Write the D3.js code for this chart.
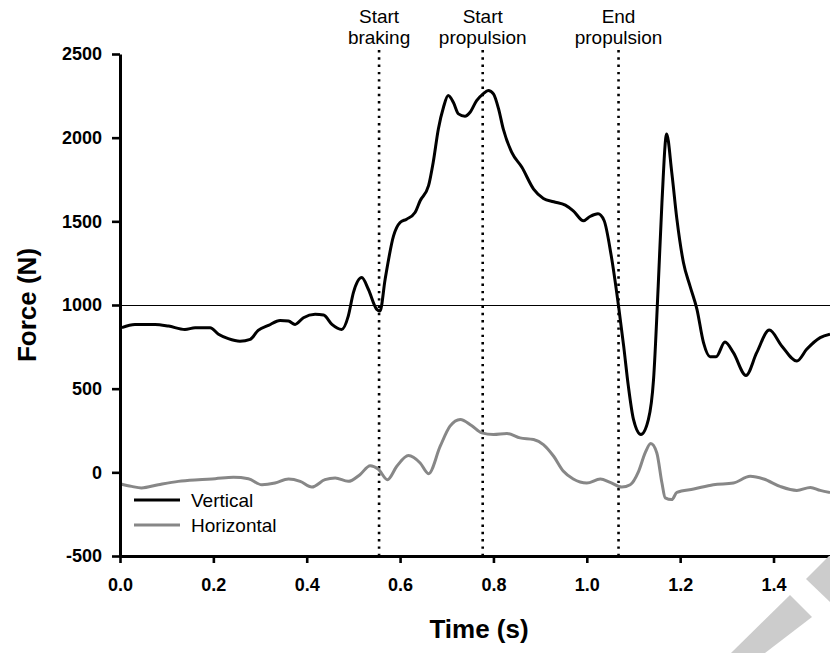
<!DOCTYPE html>
<html>
<head>
<meta charset="utf-8">
<script src="https://cdn.jsdelivr.net/npm/d3@7"></script>
<style>
  body { margin: 0; background: #fff; }
  svg { display: block; font-family: "Liberation Sans", Arial, sans-serif; }
</style>
</head>
<body>
<svg id="chart" width="830" height="653"></svg>
<script>
// time (s) and force (N)
const vertTime = [0.004, 0.032, 0.075, 0.104, 0.139, 0.161, 0.193, 0.211, 0.232, 0.257, 0.279, 0.296, 0.318, 0.343, 0.361, 0.375, 0.393, 0.418, 0.436, 0.454, 0.475, 0.489, 0.5, 0.518, 0.532, 0.55, 0.557, 0.568, 0.586, 0.6, 0.614, 0.632, 0.643, 0.661, 0.671, 0.682, 0.693, 0.703, 0.714, 0.725, 0.739, 0.75, 0.764, 0.778, 0.789, 0.8, 0.811, 0.821, 0.839, 0.861, 0.886, 0.907, 0.929, 0.954, 0.971, 0.993, 1.007, 1.024, 1.037, 1.052, 1.068, 1.079, 1.089, 1.1, 1.116, 1.132, 1.143, 1.153, 1.161, 1.171, 1.182, 1.193, 1.207, 1.221, 1.236, 1.25, 1.264, 1.277, 1.296, 1.314, 1.341, 1.364, 1.391, 1.418, 1.45, 1.471, 1.5, 1.521];
const vertForce = [865, 884, 884, 874, 854, 864, 864, 825, 799, 784, 795, 848, 878, 908, 904, 884, 924, 944, 940, 884, 854, 934, 1074, 1164, 1094, 974, 964, 1154, 1413, 1493, 1513, 1553, 1623, 1713, 1853, 2052, 2182, 2252, 2212, 2142, 2128, 2152, 2222, 2262, 2282, 2262, 2172, 2052, 1913, 1823, 1693, 1637, 1617, 1597, 1563, 1503, 1529, 1545, 1505, 1300, 994, 754, 515, 316, 226, 316, 555, 1114, 1613, 2022, 1793, 1513, 1254, 1114, 974, 775, 691, 691, 779, 715, 579, 715, 850, 754, 665, 735, 805, 825];

const horTime = [0, 0.025, 0.046, 0.082, 0.125, 0.168, 0.204, 0.243, 0.275, 0.304, 0.332, 0.361, 0.386, 0.411, 0.439, 0.461, 0.489, 0.514, 0.536, 0.553, 0.573, 0.593, 0.618, 0.643, 0.661, 0.686, 0.707, 0.729, 0.753, 0.775, 0.8, 0.829, 0.857, 0.886, 0.907, 0.929, 0.95, 0.971, 1.0, 1.029, 1.05, 1.075, 1.093, 1.111, 1.125, 1.137, 1.15, 1.161, 1.168, 1.182, 1.193, 1.229, 1.271, 1.314, 1.35, 1.379, 1.414, 1.45, 1.479, 1.5, 1.521];
const horForce = [-68, -84, -93, -74, -54, -44, -38, -30, -38, -74, -64, -40, -54, -88, -44, -34, -54, -14, 40, 20, -44, 36, 100, 56, -8, 156, 276, 316, 280, 236, 226, 232, 206, 196, 166, 96, 6, -40, -64, -40, -60, -88, -74, 6, 116, 172, 116, -64, -153, -163, -120, -100, -74, -64, -24, -40, -84, -108, -90, -108, -120];

const eventTimes = [0.555, 0.777, 1.068];
const eventLabels = [["Start", "braking"], ["Start", "propulsion"], ["End", "propulsion"]];

const seriesNames = ["Vertical", "Horizontal"];
const seriesColors = ["#000", "#878787"];

const xTicks = [0, 0.2, 0.4, 0.6, 0.8, 1.0, 1.2, 1.4];
const yTicks = [-500, 0, 500, 1000, 1500, 2000, 2500];
const refLine = 1000;

const svg = d3.select("#chart");

const x = d3.scaleLinear().domain([0, 1.521]).range([120, 830]);
const y = d3.scaleLinear().domain([-500, 2500]).range([556, 54]);

// reference line at 1000 N
svg.append("line")
  .attr("x1", x(0)).attr("x2", 830)
  .attr("y1", Math.round(y(refLine)) + 0.5).attr("y2", Math.round(y(refLine)) + 0.5)
  .attr("stroke", "#000").attr("stroke-width", 1)
  .attr("shape-rendering", "crispEdges");

// phase markers
const ev = svg.append("g");
ev.selectAll("line")
  .data(eventTimes)
  .join("line")
  .attr("x1", d => x(d)).attr("x2", d => x(d))
  .attr("y1", 50).attr("y2", y(-500))
  .attr("stroke", "#000")
  .attr("stroke-width", 2.6)
  .attr("stroke-dasharray", "2.4,4.9");

ev.selectAll("text")
  .data(eventTimes)
  .join("text")
  .attr("x", d => x(d))
  .attr("text-anchor", "middle")
  .attr("font-size", 19)
  .selectAll("tspan")
  .data((d, i) => eventLabels[i])
  .join("tspan")
  .attr("x", function() { return this.parentNode.getAttribute("x"); })
  .attr("y", (d, i) => i === 0 ? 23 : 44)
  .text(d => d);

const line = d3.line()
  .x(d => x(d[0]))
  .y(d => y(d[1]))
  .curve(d3.curveMonotoneX);

const vertData = d3.zip(vertTime, vertForce);
const horData = d3.zip(horTime, horForce);

svg.append("path")
  .datum(horData)
  .attr("fill", "none")
  .attr("stroke", seriesColors[1])
  .attr("stroke-width", 3)
  .attr("stroke-linejoin", "round")
  .attr("d", line);

svg.append("path")
  .datum(vertData)
  .attr("fill", "none")
  .attr("stroke", seriesColors[0])
  .attr("stroke-width", 3)
  .attr("stroke-linejoin", "round")
  .attr("d", line);

// axes
const xAxis = svg.append("g")
  .attr("transform", `translate(0,${y(-500)})`)
  .call(d3.axisBottom(x).tickValues(xTicks).tickFormat(d3.format(".1f"))
    .tickSize(7).tickSizeOuter(0).tickPadding(15));

const yAxis = svg.append("g")
  .attr("transform", `translate(${x(0)},0)`)
  .call(d3.axisLeft(y).tickValues(yTicks).tickFormat(d => String(d))
    .tickSize(8).tickSizeOuter(0).tickPadding(10));

[xAxis, yAxis].forEach(g => {
  g.select(".domain").attr("stroke-width", 3);
  g.selectAll(".tick line").attr("stroke-width", 2.6);
  g.selectAll(".tick text")
    .attr("font-family", "'Liberation Sans', Arial, sans-serif")
    .attr("font-size", 18)
    .attr("font-weight", "bold")
    .attr("fill", "#000");
});

svg.append("text")
  .attr("x", 479).attr("y", 638)
  .attr("text-anchor", "middle")
  .attr("font-size", 26).attr("font-weight", "bold")
  .text("Time (s)");

svg.append("text")
  .attr("transform", "translate(36,305) rotate(-90)")
  .attr("text-anchor", "middle")
  .attr("font-size", 26).attr("font-weight", "bold")
  .text("Force (N)");

// legend
const legend = svg.append("g")
  .selectAll("g")
  .data(seriesNames)
  .join("g")
  .attr("transform", (d, i) => `translate(134,${500 + i * 25})`);

legend.append("line")
  .attr("x1", 0).attr("x2", 46)
  .attr("stroke", (d, i) => seriesColors[i])
  .attr("stroke-width", 3);

legend.append("text")
  .attr("x", 57).attr("y", 7)
  .attr("font-size", 19)
  .text(d => d);

// light grey mark in the corner
svg.append("polygon")
  .attr("points", "790,595 812,617 765,653 731,653")
  .attr("fill", "#cccccc");
svg.append("polygon")
  .attr("points", "806,579 829,556 830,556 830,602")
  .attr("fill", "#cccccc");
</script>
</body>
</html>
